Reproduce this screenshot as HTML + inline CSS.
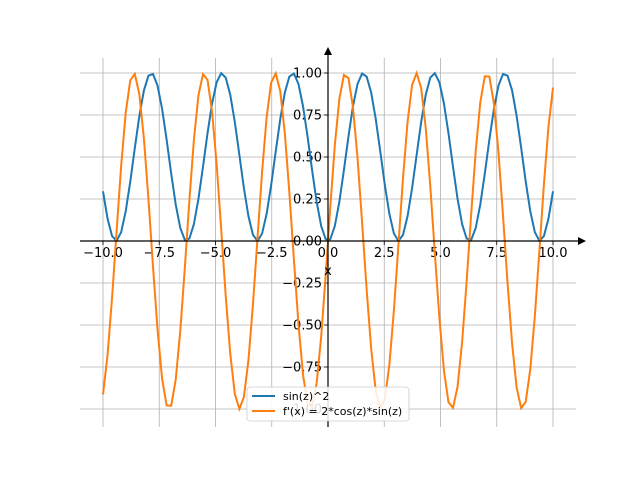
<!DOCTYPE html><html><head><style>body{margin:0;background:#fff}svg{display:block}text{font-family:"DejaVu Sans","Liberation Sans",sans-serif;font-size:13px;fill:#000}</style></head><body>
<svg id="s" width="640" height="480" xmlns="http://www.w3.org/2000/svg">
<g id="grid" stroke="#b0b0b0" stroke-width="0.8"></g>
<g id="ticks"></g>
<polyline id="p1" fill="none" stroke="#1f77b4" stroke-width="2"/>
<polyline id="p2" fill="none" stroke="#ff7f0e" stroke-width="2"/>
<line x1="80" y1="241" x2="580" y2="241" stroke="#000" stroke-width="1.2"/>
<polygon points="586,241 578,237 578,245" fill="#000"/>
<line x1="328" y1="427" x2="328" y2="54" stroke="#000" stroke-width="1.2"/>
<polygon points="328,47 324,55 332,55" fill="#000"/>
<text x="328" y="275" text-anchor="middle">x</text>
<rect x="247" y="387" width="162" height="34" rx="3" fill="#fff" fill-opacity="0.85" stroke="#ccc" stroke-width="0.8"/>
<line x1="252" y1="396" x2="275" y2="396" stroke="#1f77b4" stroke-width="2"/>
<line x1="252" y1="411" x2="275" y2="411" stroke="#ff7f0e" stroke-width="2"/>
<text x="283" y="400" style="font-size:11px">sin(z)^2</text>
<text x="283" y="415" style="font-size:11px">f'(x) = 2*cos(z)*sin(z)</text>
</svg>
<script>
var X=v=>328+v*22.5,Y=v=>241-v*168;
var g=document.getElementById('grid'),t=document.getElementById('ticks'),ns='http://www.w3.org/2000/svg';
function el(p,n,a,tx){var e=document.createElementNS(ns,n);for(var k in a)e.setAttribute(k,a[k]);if(tx!=null)e.textContent=tx;p.appendChild(e);return e;}
for(var i=-10;i<=10;i+=2.5){var x=X(i);el(g,'line',{x1:x,x2:x,y1:58,y2:427});el(t,'line',{x1:x,x2:x,y1:241,y2:245,stroke:'#000','stroke-width':0.8});el(t,'text',{x:x,y:257,'text-anchor':'middle'},i.toFixed(1).replace('-','−'));}
for(var j=-4;j<=4;j++){var v=j*0.25,y=Y(v);el(g,'line',{x1:80,x2:576,y1:y,y2:y});el(t,'line',{x1:324,x2:328,y1:y,y2:y,stroke:'#000','stroke-width':0.8});el(t,'text',{x:322,y:y+4.5,'text-anchor':'end'},v.toFixed(2).replace('-','−'));}
var a=[],b=[];for(var k=0;k<100;k++){var z=-10+20*k/99;a.push(X(z)+','+Y(Math.sin(z)**2));b.push(X(z)+','+Y(2*Math.cos(z)*Math.sin(z)));}
document.getElementById('p1').setAttribute('points',a.join(' '));document.getElementById('p2').setAttribute('points',b.join(' '));
</script></body></html>
